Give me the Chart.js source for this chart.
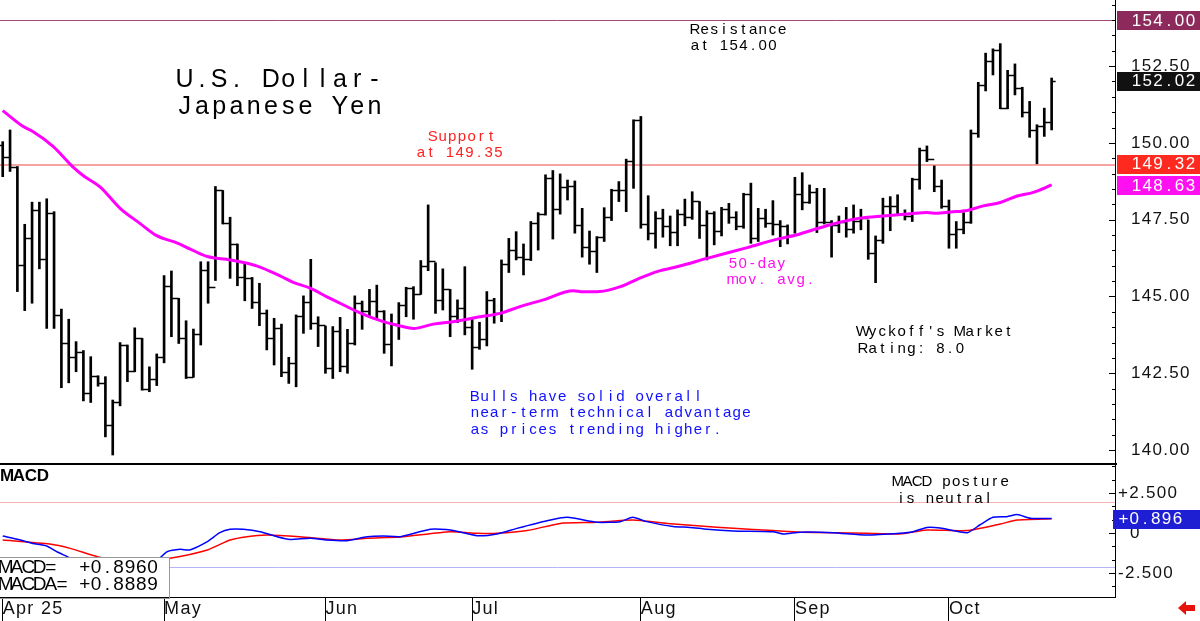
<!DOCTYPE html>
<html>
<head>
<meta charset="utf-8">
<script src="https://cdn.jsdelivr.net/npm/chart.js@4.4.1/dist/chart.umd.min.js"></script>
<style>
body { margin: 0; background: #fff; width: 1200px; height: 621px; overflow: hidden; position: relative; }
#price { position: absolute; left: 0; top: 0; }
#macd { position: absolute; left: 0; top: 465px; }
</style>
</head>
<body>
<canvas id="price" width="1200" height="465"></canvas>
<canvas id="macd" width="1200" height="156"></canvas>
<script>
// daily USD/JPY bars, Apr 1 .. Oct 21 2025 (index = trading day)
const opens = [
149.93, 149.55, 149.21, 146.03, 146.89, 147.80, 146.22, 147.73, 144.40, 143.50,
143.02, 143.20, 141.85, 142.42, 142.17, 140.81, 141.55, 143.42, 142.57, 143.64,
141.99, 142.31, 143.04, 145.35, 144.94, 143.64, 142.39, 143.78, 145.86, 145.32,
148.45, 147.40, 146.71, 145.65, 145.61, 144.83, 144.45, 143.64, 143.96, 142.53,
142.84, 144.38, 144.83, 144.13, 144.07, 142.66, 143.89, 142.74, 143.50, 144.78,
144.54, 144.85, 144.54, 143.45, 144.10, 144.72, 145.27, 145.08, 146.00, 146.15,
144.89, 145.23, 144.38, 144.64, 144.02, 143.37, 143.60, 144.89, 144.45, 146.06,
146.51, 146.28, 146.21, 147.38, 147.69, 148.85, 147.85, 148.56, 148.60, 147.33,
146.62, 146.48, 146.95, 147.60, 148.47, 148.45, 149.42, 150.73, 147.35, 147.08,
147.55, 147.31, 147.09, 147.68, 147.60, 148.12, 147.33, 147.71, 147.14, 147.84,
147.60, 147.30, 148.34, 146.89, 147.55, 147.38, 147.36, 147.30, 147.00, 148.34,
148.06, 148.41, 147.41, 147.44, 147.33, 147.44, 147.19, 147.47, 147.55, 146.43,
146.85, 147.93, 147.93, 147.69, 147.62, 148.82, 149.77, 149.47, 148.58, 147.93,
147.04, 147.19, 147.41, 150.31, 151.89, 152.65, 153.01, 151.13, 152.21, 151.78,
151.02, 150.42, 150.56, 150.69
];
const highs = [
150.04, 150.42, 149.23, 147.35, 148.07, 148.07, 148.18, 147.76, 144.59, 144.26,
143.53, 143.24, 143.04, 142.42, 142.39, 141.63, 143.50, 143.42, 143.98, 143.64,
142.71, 143.13, 145.68, 145.83, 144.94, 144.21, 143.94, 146.13, 146.13, 148.58,
148.45, 147.58, 146.71, 146.08, 145.62, 145.43, 144.56, 144.29, 144.10, 143.02,
144.40, 145.02, 146.21, 144.34, 144.04, 144.02, 144.32, 143.93, 145.02, 144.85,
145.23, 145.37, 144.54, 144.43, 144.80, 145.30, 145.32, 146.17, 147.98, 146.10,
145.90, 145.23, 144.89, 145.97, 144.29, 144.16, 145.16, 144.94, 146.19, 146.89,
147.11, 146.71, 147.44, 147.73, 148.96, 149.10, 148.99, 148.79, 148.76, 147.87,
147.13, 146.95, 147.89, 148.49, 148.74, 149.47, 150.75, 150.86, 148.28, 147.76,
147.84, 147.62, 147.82, 148.17, 148.41, 148.09, 147.79, 147.76, 147.90, 148.03,
147.76, 148.36, 148.69, 147.87, 147.84, 148.12, 147.47, 147.33, 148.88, 149.03,
148.63, 148.52, 148.52, 147.47, 147.62, 147.90, 147.98, 147.84, 147.49, 146.97,
148.20, 148.25, 148.31, 147.82, 148.85, 149.83, 149.90, 149.25, 148.79, 148.14,
147.44, 147.73, 150.42, 151.97, 152.92, 153.06, 153.23, 152.36, 152.57, 151.81,
151.35, 150.59, 151.13, 152.11
];
const lows = [
148.90, 149.07, 145.16, 144.54, 144.78, 145.90, 143.96, 143.96, 142.03, 142.19,
142.55, 141.60, 141.55, 142.08, 140.43, 139.84, 141.44, 142.23, 142.55, 141.95,
141.90, 142.10, 142.84, 143.69, 143.47, 142.33, 142.37, 143.42, 144.78, 145.52,
147.36, 145.59, 145.35, 144.86, 144.61, 144.05, 143.26, 142.77, 142.39, 142.17,
142.06, 143.80, 143.93, 143.37, 142.50, 142.33, 142.55, 142.50, 143.42, 143.93,
144.34, 144.29, 143.15, 142.74, 143.60, 144.34, 144.26, 145.07, 145.84, 144.45,
144.56, 143.69, 144.15, 143.75, 142.63, 143.28, 143.39, 144.13, 144.18, 145.78,
146.19, 145.70, 146.17, 146.51, 147.65, 146.87, 147.68, 148.14, 147.06, 146.28,
146.05, 145.78, 146.79, 147.47, 148.09, 147.76, 148.52, 147.22, 146.84, 146.57,
146.93, 146.65, 146.65, 147.30, 147.51, 146.89, 146.19, 146.68, 146.97, 147.38,
147.17, 147.22, 146.73, 146.79, 147.25, 147.00, 146.62, 146.71, 147.06, 147.82,
148.03, 147.08, 147.36, 146.28, 147.08, 146.93, 147.06, 147.17, 146.21, 145.45,
146.73, 147.14, 147.65, 147.49, 147.44, 148.49, 149.39, 148.41, 147.87, 146.57,
146.57, 147.04, 147.38, 150.18, 151.69, 152.21, 151.11, 151.11, 151.56, 150.84,
150.18, 149.32, 150.21, 150.42
];
const closes = [
149.55, 149.21, 146.03, 146.89, 147.80, 146.22, 147.73, 144.40, 143.50, 143.02,
143.20, 141.85, 142.42, 142.17, 140.81, 141.55, 143.42, 142.57, 143.64, 141.99,
142.31, 143.04, 145.35, 144.94, 143.64, 142.39, 143.78, 145.86, 145.32, 148.45,
147.40, 146.71, 145.65, 145.61, 144.83, 144.45, 143.64, 143.96, 142.53, 142.84,
144.38, 144.83, 144.13, 144.07, 142.66, 143.89, 142.74, 143.50, 144.78, 144.54,
144.85, 144.54, 143.45, 144.10, 144.72, 145.27, 145.08, 146.00, 146.15, 144.89,
145.23, 144.38, 144.64, 144.02, 143.37, 143.60, 144.89, 144.45, 146.06, 146.51,
146.28, 146.21, 147.38, 147.69, 148.85, 147.85, 148.56, 148.60, 147.33, 146.62,
146.48, 146.95, 147.60, 148.47, 148.45, 149.42, 150.73, 147.35, 147.08, 147.55,
147.31, 147.09, 147.68, 147.60, 148.12, 147.33, 147.71, 147.14, 147.84, 147.60,
147.30, 148.34, 146.89, 147.55, 147.38, 147.36, 147.30, 147.00, 148.34, 148.06,
148.41, 147.41, 147.44, 147.33, 147.44, 147.19, 147.47, 147.55, 146.43, 146.85,
147.93, 147.93, 147.69, 147.62, 148.82, 149.77, 149.47, 148.58, 147.93, 147.04,
147.19, 147.41, 150.31, 151.89, 152.65, 153.01, 151.13, 152.21, 151.78, 151.02,
150.42, 150.56, 150.69, 152.02
];

// 50-day moving average (bar index, price)
const maIndex = [0, 2.8, 4.1, 6.9, 9.6, 11.0, 13.3, 16.0, 18.7, 21.0, 23.9, 25.5, 27.9, 31.0, 34.7, 37.8, 39.6, 41.9, 44.2,
  46.0, 48.7, 51.9, 54.2, 56.0, 58.7, 61.4, 65.1, 67.8, 70.5, 73.7, 77.8, 79.1, 81.4, 84.2, 86.5, 89.2, 92.3,
  96.0, 101.5, 106.0, 107.7, 110.5, 113.2, 115.5, 116.9, 120.0, 123.7, 126.0, 127.4, 129.2, 131.5, 133.7, 136.0, 138.3, 140.5, 143.0];
const maValues = [151.05, 150.53, 150.37, 149.88, 149.21, 148.93, 148.56, 147.87, 147.38, 146.98, 146.73, 146.55, 146.30, 146.19, 145.99, 145.67, 145.46, 145.27, 144.99,
  144.78, 144.47, 144.18, 144.04, 143.96, 144.10, 144.18, 144.34, 144.45, 144.67, 144.89, 145.19, 145.15, 145.16, 145.32, 145.56, 145.81, 145.99,
  146.24, 146.59, 146.89, 146.97, 147.17, 147.36, 147.49, 147.55, 147.62, 147.69, 147.73, 147.71, 147.75, 147.80, 147.95, 148.06, 148.27, 148.39, 148.63];

// MACD (blue) and MACDA signal (red)
const macdIndex = [0, 2.4, 4.1, 6.0, 7.4, 8.8, 11, 13, 15, 17, 19, 21.4, 22.4, 24.2, 25.5, 27.9, 29.6, 31.0, 32.8, 35.1, 37.4, 39.2, 41.9,
  44.2, 46.9, 49.7, 51.9, 54.2, 58.3, 61.0, 64.7, 67.4, 70.1, 74.2, 77.0, 81.0, 84.2, 85.9, 87.8, 91.4, 93.7, 96.0, 99.6,
  105.0, 106.4, 108.7, 113.2, 117.8, 122.3, 124.1, 126.0, 127.8, 131.5, 133.2, 135.0, 136.9, 138.3, 140.1, 143.0];
const macdValues = [-0.19, -0.44, -0.65, -0.81, -1.17, -1.48, -2.0, -2.35, -2.55, -2.45, -2.1, -1.56, -1.17, -1.02, -1.06, -0.54, 0.02, 0.23, 0.23, 0.08, -0.23, -0.40, -0.33,
  -0.44, -0.48, -0.23, -0.19, -0.23, 0.23, 0.19, -0.17, -0.06, 0.29, 0.77, 0.98, 0.67, 0.71, 0.98, 0.71, 0.40, 0.35, 0.23, 0.13,
  0.08, -0.06, 0.05, 0.02, -0.13, -0.02, 0.08, 0.35, 0.31, 0.02, 0.50, 0.98, 1.02, 1.15, 0.92, 0.90];
const signalIndex = [0, 6.4, 9.2, 12.9, 16, 19, 22.8, 27.9, 31.0, 33.3, 36.0, 40.5, 46.0, 49.7, 54.2, 61.0, 64.7, 67.4, 71.5, 76.0,
  81.0, 85.9, 90.6, 95.1, 99.6, 105.0, 108.7, 117.8, 122.3, 126.0, 131.5, 136.0, 138.3, 143.0];
const signalValues = [-0.44, -0.69, -0.96, -1.48, -1.75, -1.75, -1.58, -1.06, -0.44, -0.23, -0.13, -0.23, -0.44, -0.33, -0.25, 0.08, -0.02, -0.02, 0.15, 0.60,
  0.67, 0.81, 0.60, 0.44, 0.29, 0.15, 0.05, -0.02, -0.06, 0.19, 0.15, 0.56, 0.81, 0.89];

const monthStarts = [0, 22, 44, 64, 87, 108, 129];
const monthLabels = ["Apr 25", "May", "Jun", "Jul", "Aug", "Sep", "Oct"];
const priceTicks = [140, 142.5, 145, 147.5, 150, 152.5];
const macdTicks = [2.5, 0, -2.5];

const resistance = 154.00;
const support = 149.35;
const lastPrice = 152.02;
const supportTag = 149.32;
const maLast = 148.63;
const macdNow = 0.8960;
const macdaNow = 0.8889;
const macdUpper = 1.95;
const macdLower = -2.1;

const sans = "'Liberation Sans', Arial, sans-serif";
const xMin = -0.37, xMax = 151.64;

// little ticks just inside the right axis line
function axisTicks(chart, step, major) {
    const {ctx, chartArea, scales: {y}} = chart;
    ctx.save();
    ctx.strokeStyle = "#000";
    ctx.lineWidth = 1;
    for (let k = Math.ceil(y.min / step); k * step <= y.max; k++) {
        const v = k * step;
        const py = Math.round(y.getPixelForValue(v)) + 0.5;
        const isMajor = Math.abs(v / major - Math.round(v / major)) < 1e-6;
        ctx.beginPath();
        ctx.moveTo(chartArea.right - (isMajor ? 6 : 3), py);
        ctx.lineTo(chartArea.right, py);
        ctx.stroke();
    }
    ctx.restore();
}

// the original lays its text out on a fixed character grid
function gridText(ctx, str, x, y, cell) {
    ctx.textAlign = "center";
    ctx.textBaseline = "middle";
    for (let i = 0; i < str.length; i++) ctx.fillText(str[i], x + cell * (i + 0.5), y);
}

function texts(ctx, lines, font, color, cell) {
    ctx.font = font;
    ctx.fillStyle = color;
    lines.forEach(l => gridText(ctx, l[0], l[1], l[2], cell));
}

function tag(ctx, x, y, text, bg, textX) {
    ctx.fillStyle = bg;
    ctx.fillRect(x, Math.round(y) - 9, 1200 - x, 19);
    ctx.fillStyle = "#fff";
    ctx.font = "17px " + sans;
    gridText(ctx, text, textX, y + 1, 10.8);
}

const spacing = {
    id: "spacing",
    beforeDraw(chart) { chart.ctx.letterSpacing = "1.3px"; },
    afterDraw(chart) { chart.ctx.letterSpacing = "0px"; }
};

const note = "15px " + sans;

const pricePlugin = {
    id: "pricePlugin",
    beforeDatasetsDraw(chart) {
        const {ctx, chartArea, scales: {y}} = chart;
        ctx.save();
        ctx.strokeStyle = "#a04a74";
        ctx.lineWidth = 1;
        let py = Math.round(y.getPixelForValue(resistance)) + 0.5;
        ctx.beginPath(); ctx.moveTo(chartArea.left, py); ctx.lineTo(chartArea.right, py); ctx.stroke();
        ctx.strokeStyle = "#f6a3a3";
        ctx.lineWidth = 2;
        py = Math.round(y.getPixelForValue(supportTag)) + 1;
        ctx.beginPath(); ctx.moveTo(chartArea.left, py); ctx.lineTo(chartArea.right, py); ctx.stroke();
        ctx.restore();
    },
    afterDatasetDraw(chart, args) {
        if (args.index !== 1) return;
        const {ctx, scales: {x, y}} = chart;
        ctx.save();
        ctx.strokeStyle = "#000";
        ctx.lineWidth = 1.5;
        ctx.beginPath();
        opens.forEach((o, i) => {
            const px = x.getPixelForValue(i);
            const po = Math.round(y.getPixelForValue(o)) + 0.5;
            const pc = Math.round(y.getPixelForValue(closes[i])) + 0.5;
            ctx.moveTo(px - 4, po); ctx.lineTo(px, po);
            ctx.moveTo(px, pc); ctx.lineTo(px + 4, pc);
        });
        ctx.stroke();
        ctx.restore();
    },
    afterDraw(chart) {
        const {ctx, chartArea, scales: {y}} = chart;
        ctx.save();
        ctx.letterSpacing = "0px";
        axisTicks(chart, 0.5, 2.5);
        // heavy divider under the price panel
        ctx.fillStyle = "#000";
        ctx.fillRect(0, chartArea.bottom, chartArea.right + 2, 2);

        const tx = chartArea.right + 16;
        tag(ctx, chartArea.right + 2, y.getPixelForValue(resistance), resistance.toFixed(2), "#8c2a5c", tx);
        tag(ctx, chartArea.right + 2, y.getPixelForValue(lastPrice), lastPrice.toFixed(2), "#111", tx);
        tag(ctx, chartArea.right + 2, y.getPixelForValue(supportTag), supportTag.toFixed(2), "#ff2a1f", tx);
        tag(ctx, chartArea.right + 2, y.getPixelForValue(maLast), maLast.toFixed(2), "#ff10f0", tx);

        texts(ctx, [["U.S. Dollar-", 176, 80], ["Japanese Yen", 176, 107]], "25px " + sans, "#000", 17.25);
        texts(ctx, [["Resistance", 690, 30], ["at " + resistance.toFixed(2), 690, 46],
                    ["Wyckoff's Market", 858, 332], ["Rating: 8.0", 858, 349]], note, "#000", 9.7);
        texts(ctx, [["Support", 428, 137], ["at " + support.toFixed(2), 416, 153]], note, "#ff2020", 9.7);
        texts(ctx, [["50-day", 728, 264], ["mov. avg.", 728, 280]], note, "#ff10f0", 9.7);
        texts(ctx, [["Bulls have solid overall", 470, 397], ["near-term technical advantage", 470, 413],
                    ["as prices trending higher.", 470, 430]], note, "#1010ff", 9.7);
        ctx.restore();
    }
};

new Chart(document.getElementById("price"), {
    type: "bar",
    data: {
        datasets: [{
            type: "line",
            data: maIndex.map((x, i) => ({x: x, y: maValues[i]})),
            borderColor: "#ff00ff",
            borderWidth: 3,
            pointRadius: 0,
            cubicInterpolationMode: "monotone",
            order: 0
        }, {
            type: "bar",
            data: highs.map((h, i) => ({x: i, y: [lows[i], h]})),
            backgroundColor: "#000",
            barThickness: 2,
            order: 1
        }]
    },
    options: {
        responsive: false,
        animation: false,
        layout: {autoPadding: false, padding: {bottom: 2}},
        plugins: {legend: {display: false}, tooltip: {enabled: false}},
        scales: {
            x: {type: "linear", min: xMin, max: xMax, display: false, offset: false},
            y: {
                position: "right",
                min: 139.58,
                max: 154.65,
                afterBuildTicks: s => { s.ticks = priceTicks.map(v => ({value: v})); },
                afterFit: s => { s.width = 85; s.paddingTop = 0; s.paddingBottom = 0; },
                grid: {display: false, drawTicks: false},
                border: {display: true, color: "#000"},
                ticks: {padding: 16, color: "#111", font: {family: sans, size: 17}, callback: v => v.toFixed(2)}
            }
        }
    },
    plugins: [spacing, pricePlugin]
});

const macdPlugin = {
    id: "macdPlugin",
    beforeDatasetsDraw(chart) {
        const {ctx, chartArea, scales: {y}} = chart;
        ctx.save();
        ctx.lineWidth = 1;
        ctx.strokeStyle = "#f7b4b4";
        let py = Math.round(y.getPixelForValue(macdUpper)) + 0.5;
        ctx.beginPath(); ctx.moveTo(chartArea.left, py); ctx.lineTo(chartArea.right, py); ctx.stroke();
        ctx.strokeStyle = "#b4b4f7";
        py = Math.round(y.getPixelForValue(macdLower)) + 0.5;
        ctx.beginPath(); ctx.moveTo(chartArea.left, py); ctx.lineTo(chartArea.right, py); ctx.stroke();
        ctx.restore();
    },
    afterDraw(chart) {
        const {ctx, chartArea, scales: {y}} = chart;
        ctx.save();
        ctx.letterSpacing = "0px";
        axisTicks(chart, 2.5 / 3, 2.5);

        // value box in the lower left corner
        const top = chartArea.bottom - 40;
        ctx.fillStyle = "#fff";
        ctx.fillRect(0, top, 170, 40);
        ctx.strokeStyle = "#999";
        ctx.lineWidth = 1;
        ctx.strokeRect(-1, top + 0.5, 170.5, 41);
        texts(ctx, [["MACD=  +" + macdNow.toFixed(4), 0, top + 11], ["MACDA= +" + macdaNow.toFixed(4), 0, top + 28]], "19px " + sans, "#000", 11.3);

        texts(ctx, [["MACD", 1, 11]], "bold 17px " + sans, "#000", 12);
        texts(ctx, [["MACD posture", 893, 17], ["is neutral", 896, 34]], note, "#000", 9.7);

        const py = y.getPixelForValue(macdValues[macdValues.length - 1]);
        tag(ctx, chartArea.right - 2, py, "+" + macdNow.toFixed(3), "#1e1ed2", chartArea.right + 3);

        // red arrow, bottom right
        ctx.fillStyle = "#e8120c";
        ctx.beginPath();
        ctx.moveTo(1178, 143); ctx.lineTo(1186, 136); ctx.lineTo(1186, 140); ctx.lineTo(1195, 140);
        ctx.lineTo(1195, 146); ctx.lineTo(1186, 146); ctx.lineTo(1186, 150); ctx.closePath();
        ctx.fill();
        ctx.restore();
    }
};

new Chart(document.getElementById("macd"), {
    type: "line",
    data: {
        datasets: [{
            data: macdIndex.map((x, i) => ({x: x, y: macdValues[i]})),
            borderColor: "#0000ff",
            borderWidth: 1.5,
            pointRadius: 0,
            tension: 0.2
        }, {
            data: signalIndex.map((x, i) => ({x: x, y: signalValues[i]})),
            borderColor: "#ff0000",
            borderWidth: 1.5,
            pointRadius: 0,
            tension: 0.2
        }]
    },
    options: {
        responsive: false,
        animation: false,
        layout: {autoPadding: false},
        plugins: {legend: {display: false}, tooltip: {enabled: false}},
        scales: {
            x: {
                type: "linear",
                min: xMin,
                max: xMax,
                afterBuildTicks: s => { s.ticks = monthStarts.map(v => ({value: v})); },
                afterFit: s => { s.height = 24; s.paddingLeft = 0; s.paddingRight = 0; },
                grid: {display: true, drawOnChartArea: false, drawTicks: true, tickLength: 24, color: "#000"},
                border: {display: true, color: "#000"},
                ticks: {align: "start", padding: -23, maxRotation: 0, autoSkip: false, color: "#111",
                        font: {family: sans, size: 18}, callback: (v, i) => monthLabels[i]}
            },
            y: {
                position: "right",
                min: -4,
                max: 4.25,
                afterBuildTicks: s => { s.ticks = macdTicks.map(v => ({value: v})); },
                afterFit: s => { s.width = 85; s.paddingTop = 0; s.paddingBottom = 0; },
                grid: {display: false, drawTicks: false},
                border: {display: true, color: "#000"},
                ticks: {padding: 3, color: "#111", font: {family: sans, size: 17},
                        callback: v => v > 0 ? "+" + v.toFixed(3) : (v < 0 ? v.toFixed(3) : "  0")}
            }
        }
    },
    plugins: [spacing, macdPlugin]
});
</script>
</body>
</html>
